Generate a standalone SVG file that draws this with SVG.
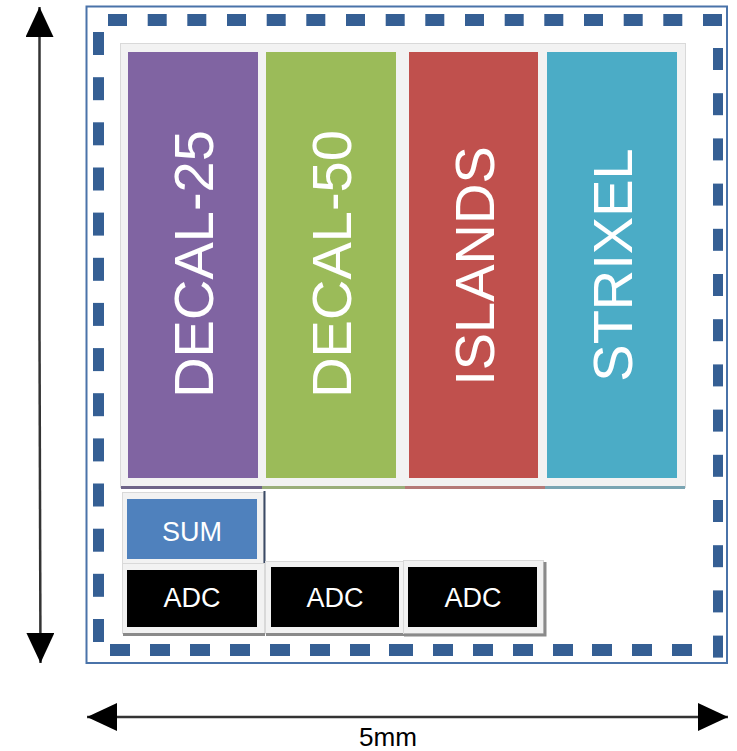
<svg xmlns="http://www.w3.org/2000/svg" width="737" height="751" viewBox="0 0 737 751">
<defs>
<style>
.dash{fill:#355f94}
.bartxt{font-family:"Liberation Sans",Arial,sans-serif;font-size:56px;fill:#ffffff;text-anchor:middle}
.boxtxt{font-family:"Liberation Sans",Arial,sans-serif;font-size:27px;fill:#ffffff;text-anchor:middle}
.frame{fill:#f2f2f2;stroke:#d9d9d9;stroke-width:1}
.arrowline{stroke:#333;stroke-width:2.5;fill:none}
</style>
<marker id="ah" viewBox="0 0 30 28" refX="30" refY="14" markerWidth="30" markerHeight="28" markerUnits="userSpaceOnUse" orient="auto-start-reverse">
<path d="M0,0 L30,14 L0,28 Z" fill="#000"/>
</marker>
</defs>
<rect width="737" height="751" fill="#fff"/>

<g id="chip-frame">
<rect x="86.5" y="6.5" width="640.5" height="656.5" fill="#fff" stroke="#4a73a9" stroke-width="2"/>
<g id="dashes-top" class="dash">
<rect x="108" y="14" width="19" height="12"/><rect x="147.7" y="14" width="19" height="12"/><rect x="187.3" y="14" width="19" height="12"/><rect x="227" y="14" width="19" height="12"/><rect x="266.7" y="14" width="19" height="12"/><rect x="306.3" y="14" width="19" height="12"/><rect x="346" y="14" width="19" height="12"/><rect x="385.7" y="14" width="19" height="12"/><rect x="425.3" y="14" width="19" height="12"/><rect x="465" y="14" width="19" height="12"/><rect x="504.7" y="14" width="19" height="12"/><rect x="544.3" y="14" width="19" height="12"/><rect x="584" y="14" width="19" height="12"/><rect x="623.7" y="14" width="19" height="12"/><rect x="663.3" y="14" width="19" height="12"/><rect x="703" y="14" width="19" height="12"/>
</g>
<g id="dashes-left" class="dash">
<rect x="93" y="32" width="11" height="23"/><rect x="93" y="77.2" width="11" height="23"/><rect x="93" y="122.3" width="11" height="23"/><rect x="93" y="167.5" width="11" height="23"/><rect x="93" y="212.6" width="11" height="23"/><rect x="93" y="257.8" width="11" height="23"/><rect x="93" y="302.9" width="11" height="23"/><rect x="93" y="348.1" width="11" height="23"/><rect x="93" y="393.2" width="11" height="23"/><rect x="93" y="438.4" width="11" height="23"/><rect x="93" y="483.5" width="11" height="23"/><rect x="93" y="528.7" width="11" height="23"/><rect x="93" y="573.8" width="11" height="23"/><rect x="93" y="619" width="11" height="23"/>
</g>
<g id="dashes-right" class="dash">
<rect x="713" y="48" width="10" height="22"/><rect x="713" y="93.2" width="10" height="22"/><rect x="713" y="138.4" width="10" height="22"/><rect x="713" y="183.6" width="10" height="22"/><rect x="713" y="228.8" width="10" height="22"/><rect x="713" y="274" width="10" height="22"/><rect x="713" y="319.2" width="10" height="22"/><rect x="713" y="364.4" width="10" height="22"/><rect x="713" y="409.6" width="10" height="22"/><rect x="713" y="454.8" width="10" height="22"/><rect x="713" y="500" width="10" height="22"/><rect x="713" y="545.2" width="10" height="22"/><rect x="713" y="590.4" width="10" height="22"/><rect x="713" y="635.6" width="10" height="22"/>
</g>
<g id="dashes-bottom" class="dash">
<rect x="110" y="644" width="20" height="12"/><rect x="150" y="644" width="20" height="12"/><rect x="190" y="644" width="20" height="12"/><rect x="230" y="644" width="20" height="12"/><rect x="270" y="644" width="20" height="12"/><rect x="310" y="644" width="20" height="12"/><rect x="350" y="644" width="20" height="12"/><rect x="389" y="644" width="24" height="12"/><rect x="433" y="644" width="20" height="12"/><rect x="473" y="644" width="20" height="12"/><rect x="513" y="644" width="20" height="12"/><rect x="553" y="644" width="20" height="12"/><rect x="592" y="644" width="20" height="12"/><rect x="632" y="644" width="20" height="12"/><rect x="672" y="644" width="20" height="12"/>
</g>
</g>

<g id="sensor-panel">
<rect x="120.5" y="43.5" width="565" height="444" class="frame"/>
<rect x="121" y="486" width="141" height="3" fill="#6e6488"/>
<rect x="262" y="486" width="143" height="3" fill="#9aae7a"/>
<rect x="405" y="486" width="140" height="3" fill="#b57a78"/>
<rect x="545" y="486" width="140" height="3" fill="#7aa5b3"/>
</g>

<g id="decal-25">
<rect x="128" y="52" width="130" height="426" fill="#8064a2"/>
<text class="bartxt" transform="translate(193,264) rotate(-90)" y="20">DECAL-25</text>
</g>
<g id="decal-50">
<rect x="266" y="52" width="130" height="426" fill="#9bbb59"/>
<text class="bartxt" transform="translate(331,264) rotate(-90)" y="20">DECAL-50</text>
</g>
<g id="islands">
<rect x="409" y="52" width="129" height="426" fill="#c0504d"/>
<text class="bartxt" transform="translate(473.5,266) rotate(-90)" y="20">ISLANDS</text>
</g>
<g id="strixel">
<rect x="547" y="52" width="130" height="426" fill="#4bacc6"/>
<text class="bartxt" transform="translate(612,265) rotate(-90)" y="20">STRIXEL</text>
</g>

<g id="sum">
<rect x="122.5" y="492.5" width="141" height="73" class="frame"/>
<path d="M124,566 H264.5 V491" stroke="#3b4a66" stroke-width="2" fill="none"/>
<rect x="127" y="499" width="130" height="60" fill="#4f81bd"/>
<text class="boxtxt" x="192" y="541">SUM</text>
</g>

<g id="adc-1">
<rect x="122.5" y="563.5" width="142" height="70" class="frame"/>
<rect x="123" y="633" width="142" height="3" fill="#8a8a8a"/>
<rect x="127" y="570" width="130" height="57" fill="#000"/>
<text class="boxtxt" x="192" y="607">ADC</text>
</g>
<g id="adc-2">
<rect x="265.5" y="561.5" width="138" height="72" class="frame"/>
<rect x="266" y="633" width="138" height="3" fill="#8a8a8a"/>
<rect x="271" y="567" width="128" height="60" fill="#000"/>
<text class="boxtxt" x="335" y="607">ADC</text>
</g>
<g id="adc-3">
<rect x="403.5" y="560.5" width="140" height="73" class="frame"/>
<path d="M404,635 H545 V562" stroke="#8a8a8a" stroke-width="3" fill="none"/>
<rect x="408" y="567" width="129" height="60" fill="#000"/>
<text class="boxtxt" x="473" y="607">ADC</text>
</g>

<g id="connectors">
<line class="arrowline" x1="39.5" y1="330" x2="39.5" y2="7" marker-end="url(#ah)"/>
<line class="arrowline" x1="39.5" y1="330" x2="40.5" y2="663" marker-end="url(#ah)"/>
<line class="arrowline" x1="400" y1="717" x2="87" y2="717" marker-end="url(#ah)"/>
<line class="arrowline" x1="400" y1="717" x2="728" y2="717" marker-end="url(#ah)"/>
</g>
<text x="388" y="746" font-family="'Liberation Sans',Arial,sans-serif" font-size="26" fill="#000" text-anchor="middle" textLength="58" lengthAdjust="spacingAndGlyphs">5mm</text>
</svg>
